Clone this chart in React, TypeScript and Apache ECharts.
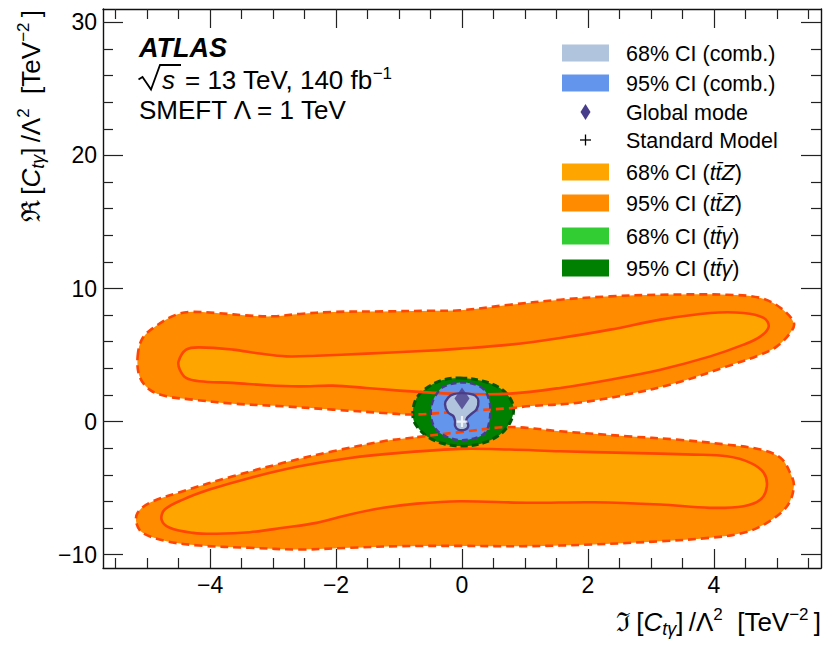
import React, { useEffect, useRef } from "react";
import * as echarts from "echarts";

const FONT = '"Liberation Sans", Arial, Helvetica, sans-serif';

// ---- tick values ----
const xMajorTicks = [-4, -2, 0, 2, 4];
const xMinorTicks = [-5.5, -5, -4.5, -3.5, -3, -2.5, -1.5, -1, -0.5, 0.5, 1, 1.5, 2.5, 3, 3.5, 4.5, 5, 5.5];
const yMajorTicks = [-10, 0, 10, 20, 30];
const yMinorTicks = [-8, -6, -4, -2, 2, 4, 6, 8, 12, 14, 16, 18, 22, 24, 26, 28];

// ---- contours (Im, Re) ----
const ttZ95Upper = [
  [-5.15, 4.9], [-5.07, 6.28], [-4.83, 7.28], [-4.54, 8.03], [-4.32, 8.24], [-3.9, 8.16], [-3.37, 7.96],
  [-3.0, 7.91], [-2.58, 8.09], [-2.05, 8.24], [-1.25, 8.28], [-0.46, 8.33], [-0.03, 8.36], [0.76, 8.78],
  [1.56, 9.16], [2.35, 9.41], [3.15, 9.53], [4.21, 9.53], [4.74, 9.29], [5.06, 8.54], [5.27, 7.41],
  [5.21, 6.66], [5.0, 5.65], [4.74, 5.03], [4.21, 4.15], [3.41, 2.91], [2.62, 2.03], [1.82, 1.4],
  [1.03, 1.15], [0.82, 1.03], [0.02, 0.79], [-0.77, 0.53], [-1.25, 0.65], [-2.05, 0.9], [-2.84, 1.15],
  [-3.64, 1.35], [-4.27, 1.65], [-4.69, 1.9], [-4.96, 2.4], [-5.12, 3.4],
];
const ttZ68Upper = [
  [-4.5, 4.53], [-4.38, 5.41], [-4.17, 5.58], [-3.64, 5.41], [-3.21, 5.11], [-2.79, 4.9], [-2.31, 4.95],
  [-1.52, 5.11], [-0.72, 5.28], [-0.03, 5.48], [0.76, 5.78], [1.56, 6.28], [2.35, 6.91], [3.15, 7.66],
  [3.94, 8.16], [4.47, 8.16], [4.79, 7.79], [4.87, 7.15], [4.74, 6.4], [4.47, 5.78], [3.94, 4.9],
  [3.15, 3.9], [2.35, 3.15], [1.56, 2.53], [0.76, 2.1], [-0.03, 2.08], [-0.5, 2.18], [-0.99, 2.33],
  [-1.52, 2.53], [-2.05, 2.7], [-2.58, 2.65], [-3.1, 2.73], [-3.64, 2.91], [-4.17, 3.03], [-4.38, 3.28],
  [-4.48, 3.9],
];
const ttZ95Lower = [
  [-0.77, -1.2], [-1.25, -1.48], [-2.05, -2.23], [-2.84, -3.1], [-3.64, -4.11], [-4.43, -5.23], [-4.96, -6.1],
  [-5.15, -6.85], [-5.17, -7.61], [-5.07, -8.36], [-4.69, -8.99], [-4.17, -9.31], [-3.37, -9.48],
  [-2.58, -9.61], [-1.78, -9.48], [-0.99, -9.36], [-0.03, -9.34], [1.03, -9.36], [2.09, -9.23],
  [3.15, -8.99], [3.94, -8.73], [4.47, -8.36], [4.84, -7.61], [5.16, -6.36], [5.27, -4.86], [5.21, -3.85],
  [5.06, -2.73], [4.74, -2.1], [4.21, -1.73], [3.41, -1.35], [2.62, -1.1], [1.56, -0.73], [0.76, -0.41],
  [-0.03, -0.79],
];
const ttZ68Lower = [
  [-0.03, -2.05], [-0.99, -2.35], [-1.78, -2.73], [-2.58, -3.36], [-3.37, -4.23], [-4.01, -5.11],
  [-4.43, -5.86], [-4.72, -6.61], [-4.77, -7.36], [-4.64, -7.98], [-4.27, -8.36], [-3.9, -8.43],
  [-3.37, -8.31], [-2.84, -7.98], [-2.31, -7.61], [-1.78, -6.98], [-1.25, -6.48], [-0.72, -6.16],
  [-0.03, -5.98], [1.03, -6.1], [2.09, -6.06], [3.15, -6.23], [3.94, -6.48], [4.47, -6.36], [4.74, -5.86],
  [4.84, -4.86], [4.79, -3.85], [4.58, -3.1], [4.21, -2.61], [3.68, -2.48], [2.62, -2.35], [1.56, -2.23],
  [0.76, -2.1],
];
const ttG95 = [
  [-0.03, 3.28], [0.34, 3.03], [0.6, 2.53], [0.76, 1.78], [0.82, 0.9], [0.76, -0.1], [0.6, -0.98],
  [0.34, -1.6], [0.02, -1.85], [-0.3, -1.65], [-0.56, -1.1], [-0.75, -0.1], [-0.78, 0.77], [-0.72, 1.78],
  [-0.56, 2.53], [-0.32, 3.1],
];
const ttG68 = [
  [0.0, 2.5], [0.3, 2.0], [0.36, 0.9], [0.3, -0.6], [0.0, -1.0], [-0.35, -0.4], [-0.4, 1.0], [-0.3, 2.1],
];
const comb95 = [
  [-0.03, 2.93], [0.19, 2.82], [0.35, 2.4], [0.43, 1.65], [0.45, 0.9], [0.43, -0.08], [0.37, -0.83],
  [0.21, -1.24], [-0.03, -1.39], [-0.25, -1.13], [-0.41, -0.6], [-0.49, 0.3], [-0.48, 1.28], [-0.41, 2.03],
  [-0.29, 2.63],
];
const comb68 = [
  [0.0, 2.14], [0.1, 2.1], [0.21, 1.95], [0.26, 1.54], [0.23, 0.92], [0.13, 0.5], [0.07, 0.17], [0.1, -0.32],
  [0.05, -0.6], [-0.06, -0.6], [-0.11, -0.32], [-0.11, 0.05], [-0.14, 0.43], [-0.22, 0.68], [-0.27, 1.3],
  [-0.22, 1.8], [-0.13, 2.06],
];
const globalMode = [[0.0, 1.74]];
const standardModel = [[0.0, 0.0]];

// ---- legend ----
const legendLabels = [
  "{n|68% CI (comb.)}",
  "{n|95% CI (comb.)}",
  "{n|Global mode}",
  "{n|Standard Model}",
  "{n|68% CI (}{i|tt\u0304Z}{n|)}",
  "{n|95% CI (}{i|tt\u0304Z}{n|)}",
  "{n|68% CI (}{i|tt\u0304\u03b3}{n|)}",
  "{n|95% CI (}{i|tt\u0304\u03b3}{n|)}",
];

const C = {
  comb68: "#B0C4DE",
  comb95: "#6495ED",
  mode: "#483D8B",
  ttZ68: "#FFA500",
  ttZ95: "#FF8C00",
  ttG68: "#32CD32",
  ttG95: "#008000",
  line: "#FF4500",
};

const legendKinds = [
  { kind: "rect", color: C.comb68 },
  { kind: "rect", color: C.comb95 },
  { kind: "diamond", color: C.mode },
  { kind: "plus", color: "#000" },
  { kind: "rect", color: C.ttZ68 },
  { kind: "rect", color: C.ttZ95 },
  { kind: "rect", color: C.ttG68 },
  { kind: "rect", color: C.ttG95 },
];
const legendRowY = [53, 83, 112, 140, 172, 203, 236, 268];

function polySeries(name: string, pts: number[][], style: any, smooth = 0.35) {
  return {
    type: "custom",
    name,
    xAxisIndex: 0,
    yAxisIndex: 0,
    data: pts,
    encode: { x: 0, y: 1 },
    clip: true,
    silent: true,
    renderItem: (params: any, api: any) => {
      if (params.dataIndex !== 0) return null;
      return {
        type: "polygon",
        shape: { points: pts.map((p) => api.coord(p)), smooth },
        style,
      };
    },
  };
}

const fmt = (v: number) => (v < 0 ? "\u2212" + Math.abs(v) : String(v));
const frameLine = { color: "#111", width: 1.4 };
const tickLine = { color: "#222", width: 1.2 };

function makeAxis(dim: "x" | "y", position: string, values: number[], length: number, main: boolean, labels: boolean) {
  const isX = dim === "x";
  return {
    type: "value",
    position,
    min: isX ? -5.7 : -11,
    max: isX ? 5.7 : 31,
    axisLine: { show: main, onZero: false, lineStyle: frameLine },
    axisTick: { show: true, inside: true, length, customValues: values, lineStyle: tickLine },
    axisLabel: labels
      ? {
          show: true,
          customValues: values,
          formatter: fmt,
          fontSize: 23,
          fontFamily: FONT,
          color: "#000",
          margin: isX ? 5 : 6,
        }
      : { show: false },
    splitLine: { show: false },
    minorTick: { show: false },
  };
}

const titleRich = {
  n: { fontSize: 26, fontFamily: FONT, fill: "#000", lineHeight: 32, verticalAlign: "middle" },
  i: { fontSize: 26, fontFamily: FONT, fontStyle: "italic", fill: "#000", lineHeight: 32, verticalAlign: "middle" },
  sub: { fontSize: 18, fontFamily: FONT, fontStyle: "italic", fill: "#000", lineHeight: 18, verticalAlign: "bottom" },
  sup: { fontSize: 17, fontFamily: FONT, fill: "#000", lineHeight: 15, verticalAlign: "top" },
};
const TS = "\u2009";
const titleX = `{n|\u2111${TS}[}{i|C}{sub|t\u03b3}{n|]${TS}/\u039b}{sup|2}{n|  [TeV}{sup|\u22122}{n|${TS}]}`;
const titleY = `{n|\u211c${TS}[}{i|C}{sub|t\u03b3}{n|]${TS}/\u039b}{sup|2}{n|  [TeV}{sup|\u22122}{n|${TS}]}`;

export default function App() {
  const ref = useRef<HTMLDivElement>(null);
  useEffect(() => {
    if (!ref.current) return;
    const chart = echarts.init(ref.current, null, { renderer: "svg" });

    const legendEls: any[] = [];
    legendKinds.forEach((k, i) => {
      const cy = legendRowY[i];
      if (k.kind === "rect") {
        legendEls.push({ type: "rect", shape: { x: 562, y: cy - 8.5, width: 47, height: 17 }, style: { fill: k.color } });
      } else if (k.kind === "diamond") {
        legendEls.push({
          type: "polygon",
          shape: { points: [[585.5, cy - 8], [590.5, cy], [585.5, cy + 8], [580.5, cy]] },
          style: { fill: k.color },
        });
      } else {
        legendEls.push({ type: "line", shape: { x1: 580, y1: cy, x2: 591, y2: cy }, style: { stroke: k.color, lineWidth: 1.3 } });
        legendEls.push({ type: "line", shape: { x1: 585.5, y1: cy - 5.5, x2: 585.5, y2: cy + 5.5 }, style: { stroke: k.color, lineWidth: 1.3 } });
      }
      legendEls.push({
        type: "text",
        x: 626,
        y: cy + 1,
        style: {
          text: legendLabels[i],
          align: "left",
          verticalAlign: "middle",
          rich: {
            n: { fontSize: 21.5, fontFamily: FONT, fill: "#000" },
            i: { fontSize: 21.5, fontFamily: FONT, fontStyle: "italic", fill: "#000" },
          },
        },
      });
    });

    const option: any = {
      animation: false,
      backgroundColor: "#ffffff",
      grid: { left: 103, right: 9, top: 9, bottom: 85, containLabel: false, outerBoundsMode: "none" },
      xAxis: [
        makeAxis("x", "bottom", xMajorTicks, 19, true, true),
        makeAxis("x", "bottom", xMinorTicks, 10, false, false),
        makeAxis("x", "top", xMajorTicks, 19, true, false),
        makeAxis("x", "top", xMinorTicks, 10, false, false),
      ],
      yAxis: [
        makeAxis("y", "left", yMajorTicks, 20, true, true),
        makeAxis("y", "left", yMinorTicks, 10, false, false),
        makeAxis("y", "right", yMajorTicks, 20, true, false),
        makeAxis("y", "right", yMinorTicks, 10, false, false),
      ],
      series: [
        polySeries("ttZ95U", ttZ95Upper, { fill: C.ttZ95 }),
        polySeries("ttZ95L", ttZ95Lower, { fill: C.ttZ95 }),
        polySeries("ttZ68U", ttZ68Upper, { fill: C.ttZ68 }),
        polySeries("ttZ68L", ttZ68Lower, { fill: C.ttZ68 }),
        polySeries("ttG95", ttG95, { fill: C.ttG95 }),
        polySeries("ttG68", ttG68, { fill: C.ttG68 }),
        polySeries("comb95", comb95, { fill: C.comb95 }),
        polySeries("ttG95line", ttG95, { fill: "none", stroke: "#005a00", lineWidth: 3, lineDash: [7, 4] }),
        polySeries("ttZ95Uline", ttZ95Upper, { fill: "none", stroke: C.line, lineWidth: 2.6, lineDash: [8, 5] }),
        polySeries("ttZ95Lline", ttZ95Lower, { fill: "none", stroke: C.line, lineWidth: 2.6, lineDash: [8, 5] }),
        polySeries("ttZ68Uline", ttZ68Upper, { fill: "none", stroke: C.line, lineWidth: 2.6 }),
        polySeries("ttZ68Lline", ttZ68Lower, { fill: "none", stroke: C.line, lineWidth: 2.6 }),
        polySeries("comb95line", comb95, { fill: "none", stroke: C.mode, lineWidth: 2.4, lineDash: [6, 4] }),
        polySeries("comb68", comb68, { fill: C.comb68, stroke: C.mode, lineWidth: 2.4 }),
        {
          type: "scatter",
          name: "Global mode",
          data: globalMode,
          symbol: "diamond",
          symbolSize: [15, 22],
          itemStyle: { color: C.mode },
          silent: true,
        },
        {
          type: "scatter",
          name: "Standard Model",
          data: standardModel,
          symbol: "path://M4,0H6V4H10V6H6V10H4V6H0V4H4Z",
          symbolSize: 11,
          itemStyle: { color: "#ffffff" },
          silent: true,
        },
      ],
      graphic: {
        elements: [
          {
            type: "text",
            x: 139,
            y: 47.5,
            style: { text: "ATLAS", font: `italic bold 27px ${FONT}`, fill: "#000", align: "left", verticalAlign: "middle" },
          },
          {
            type: "polyline",
            shape: { points: [[138.5, 79.5], [142.5, 77], [151, 89.5], [160, 65], [181, 65]] },
            style: { stroke: "#000", lineWidth: 1.8, fill: "none" },
          },
          {
            type: "text",
            x: 162,
            y: 80,
            style: { text: "s", font: `italic 26px ${FONT}`, fill: "#000", align: "left", verticalAlign: "middle" },
          },
          {
            type: "text",
            x: 185,
            y: 80,
            style: {
              text: "{n|= 13 TeV, 140 fb}{sup|\u22121}",
              align: "left",
              verticalAlign: "middle",
              rich: {
                n: { fontSize: 26, fontFamily: FONT, fill: "#000", lineHeight: 30, verticalAlign: "middle" },
                sup: { fontSize: 17, fontFamily: FONT, fill: "#000", lineHeight: 15, verticalAlign: "top" },
              },
            },
          },
          {
            type: "text",
            x: 139,
            y: 110,
            style: { text: "SMEFT \u039b = 1 TeV", font: `26px ${FONT}`, fill: "#000", align: "left", verticalAlign: "middle" },
          },
          {
            type: "text",
            x: 821,
            y: 622,
            style: { text: titleX, align: "right", verticalAlign: "middle", rich: titleRich },
          },
          {
            type: "text",
            x: 31,
            y: 222,
            rotation: Math.PI / 2,
            style: { text: titleY, align: "left", verticalAlign: "middle", rich: titleRich },
          },
          ...legendEls,
        ],
      },
    };
    chart.setOption(option);
    return () => chart.dispose();
  }, []);
  return (
    <div
      ref={ref}
      style={{ position: "fixed", left: 0, top: 0, width: 830, height: 653, background: "#fff" }}
    />
  );
}
